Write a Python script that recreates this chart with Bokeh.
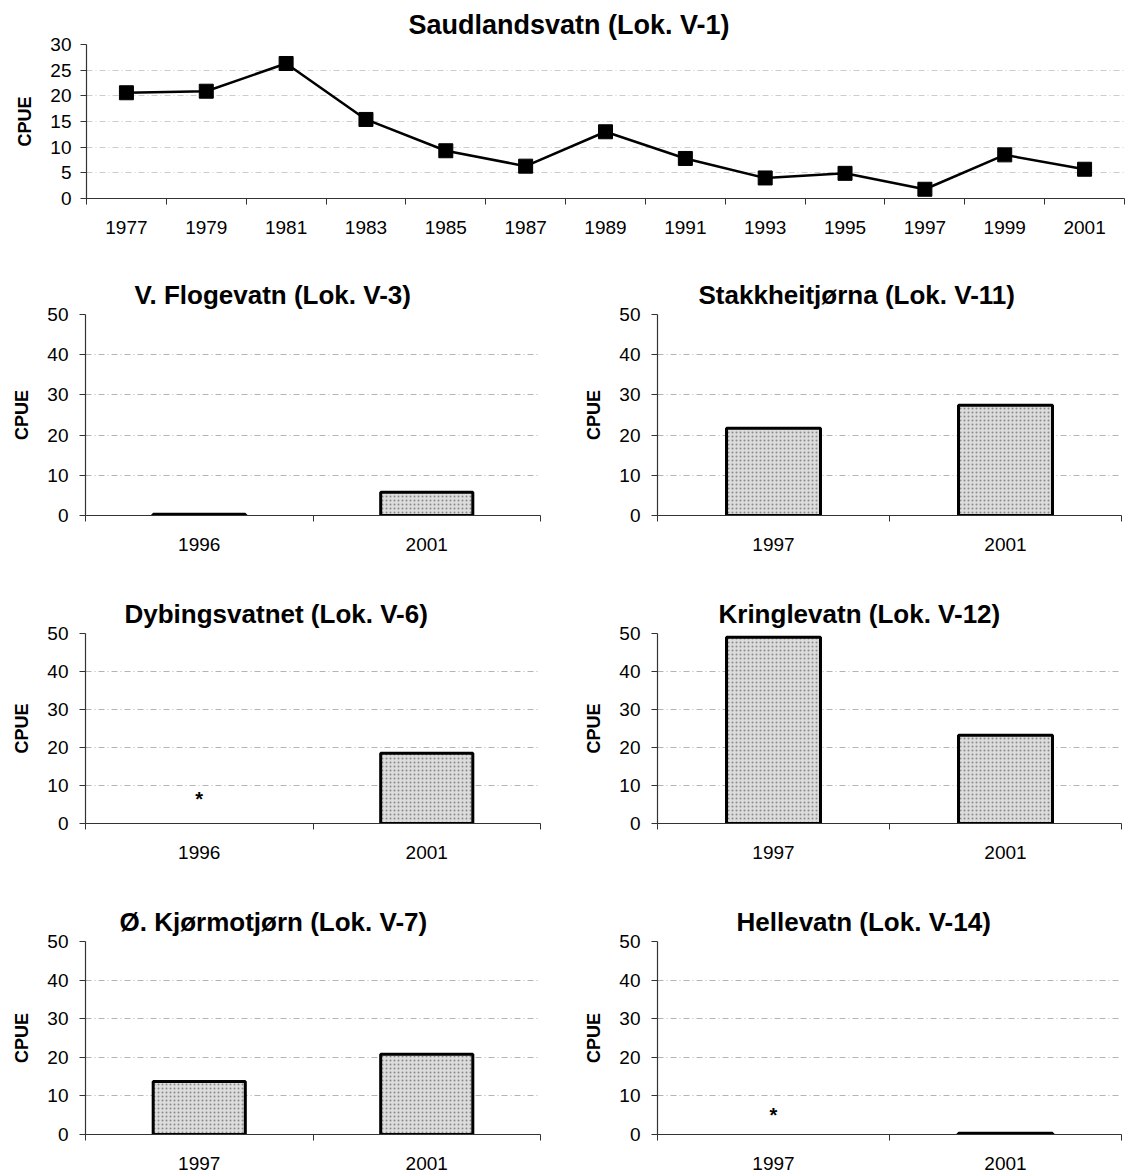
from bokeh.plotting import figure
from bokeh.layouts import column, row
from bokeh.models import Range1d, FixedTicker, ColumnDataSource
from bokeh.embed import file_html
from bokeh.resources import INLINE
from bokeh.core.properties import value

FONT = "Liberation Sans"

# ---- data ----
top_title = "Saudlandsvatn (Lok. V-1)"
top_years = ["1977", "1979", "1981", "1983", "1985", "1987", "1989",
             "1991", "1993", "1995", "1997", "1999", "2001"]
top_cpue = [20.6, 20.9, 26.3, 15.4, 9.3, 6.3, 13.0, 7.8, 4.0, 4.9, 1.8, 8.5, 5.7]
top_yticks = [0, 5, 10, 15, 20, 25, 30]

titles = ["V. Flogevatn (Lok. V-3)", "Stakkheitjørna (Lok. V-11)",
          "Dybingsvatnet (Lok. V-6)", "Kringlevatn (Lok. V-12)",
          "Ø. Kjørmotjørn (Lok. V-7)", "Hellevatn (Lok. V-14)"]
years = [["1996", "2001"], ["1997", "2001"],
         ["1996", "2001"], ["1997", "2001"],
         ["1997", "2001"], ["1997", "2001"]]
cpue = [[0.3, 5.8], [21.7, 27.4],
        [None, 18.5], [49.0, 23.2],
        [13.7, 20.8], [None, 0.3]]
star_year = [None, None, "1996", None, None, "1997"]
star_y = [None, None, 6.5, None, None, 5.0]
panel_yticks = [0, 10, 20, 30, 40, 50]

GRID_COLOR = "#b4b4b4"


def style_common(p, title_offset, title_size):
    p.title.text_font = FONT
    p.title.text_font_size = title_size
    p.title.text_font_style = "bold"
    p.title.align = "left"
    p.title.offset = title_offset
    p.title.text_color = "black"
    p.outline_line_color = None
    p.xgrid.grid_line_color = None
    p.ygrid.grid_line_color = GRID_COLOR
    p.ygrid.grid_line_dash = "6 3 1 3"
    p.ygrid.grid_line_width = 1
    for ax in (p.xaxis[0], p.yaxis[0]):
        ax.axis_line_color = "#333333"
        ax.axis_line_width = 1.2
        ax.major_tick_line_color = "#333333"
        ax.minor_tick_line_color = "#333333"
        ax.major_label_text_font = FONT
        ax.major_label_text_color = "black"
    p.yaxis[0].major_tick_in = 0
    p.yaxis[0].major_tick_out = 6
    p.yaxis[0].minor_tick_out = 0
    p.yaxis[0].minor_tick_in = 0
    p.yaxis[0].axis_label = "CPUE"
    p.yaxis[0].axis_label_text_font = FONT
    p.yaxis[0].axis_label_text_font_style = "bold"
    p.yaxis[0].axis_label_text_font_size = "18px"
    p.yaxis[0].axis_label_text_color = "black"
    p.xaxis[0].major_tick_in = 0
    p.xaxis[0].major_tick_out = 0
    p.xaxis[0].minor_tick_in = 0
    p.xaxis[0].minor_tick_out = 6


# ---- top line chart ----
n = len(top_years)
xs = list(range(n))
top = figure(frame_width=1038, frame_height=154,
             x_range=Range1d(-0.5, n - 0.5), y_range=Range1d(0, 30),
             output_backend="svg", toolbar_location=None, title=top_title,
             min_border_left=86, min_border_right=8,
             min_border_top=44, min_border_bottom=60)
style_common(top, 322, "27px")
top.yaxis[0].ticker = FixedTicker(ticks=top_yticks)
top.yaxis[0].major_label_text_font_size = "19px"
top.yaxis[0].major_label_standoff = 9
top.yaxis[0].axis_label_standoff = 12
top.xaxis[0].ticker = FixedTicker(ticks=xs, minor_ticks=[i - 0.5 for i in range(n + 1)])
top.xaxis[0].major_label_overrides = {i: y for i, y in enumerate(top_years)}
top.xaxis[0].major_label_text_font_size = "19px"
top.xaxis[0].major_label_standoff = 16
top.ygrid.grid_line_color = "#cccccc"
src = ColumnDataSource(dict(x=xs, y=top_cpue))
top.line("x", "y", source=src, line_color="black", line_width=2.5)
top.scatter("x", "y", source=src, marker="square", size=14,
            fill_color="black", line_color="black")


# ---- bar panels ----
def make_panel(i, left_col, frame_h, b_top, b_bottom, t_off):
    yrs = years[i]
    vals = cpue[i]
    if left_col:
        fw, bl, br = 455, 85, 26
    else:
        fw, bl, br = 464, 91, 11
    p = figure(frame_width=fw, frame_height=frame_h,
               x_range=Range1d(-0.5, len(yrs) - 0.5), y_range=Range1d(0, 50),
               output_backend="svg", toolbar_location=None, title=titles[i],
               min_border_left=bl, min_border_right=br,
               min_border_top=b_top, min_border_bottom=b_bottom)
    style_common(p, t_off, "26px")
    p.yaxis[0].ticker = FixedTicker(ticks=panel_yticks)
    p.yaxis[0].major_label_text_font_size = "19px"
    p.yaxis[0].major_label_standoff = 11
    p.yaxis[0].axis_label_standoff = 12
    p.xaxis[0].ticker = FixedTicker(ticks=list(range(len(yrs))),
                                    minor_ticks=[k - 0.5 for k in range(len(yrs) + 1)])
    p.xaxis[0].major_label_overrides = {k: y for k, y in enumerate(yrs)}
    p.xaxis[0].major_label_text_font_size = "19px"
    p.xaxis[0].major_label_standoff = 16
    bx = [k for k, v in enumerate(vals) if v is not None]
    bt = [v for v in vals if v is not None]
    p.vbar(x=bx, top=bt, bottom=0, width=0.405,
           fill_color="#dcdcdc", line_color="black", line_width=3,
           hatch_pattern="dot", hatch_color="#8a8a8a", hatch_scale=4,
           hatch_weight=1.2)
    if star_year[i] is not None:
        sx = yrs.index(star_year[i])
        p.text(x=[sx], y=[star_y[i]], text=["*"], text_font=value(FONT),
               text_font_size="20px", text_font_style="bold",
               text_align="center", text_baseline="middle", text_color="black")
    return p


p1 = make_panel(0, True, 201, 56, 57, 49)
p2 = make_panel(1, False, 201, 56, 57, 41)
p3 = make_panel(2, True, 190, 61, 59, 39)
p4 = make_panel(3, False, 190, 61, 59, 61)
p5 = make_panel(4, True, 193, 59, 38, 34)
p6 = make_panel(5, False, 193, 59, 38, 79)

layout = column(top, row(p1, p2, spacing=0), row(p3, p4, spacing=0),
                row(p5, p6, spacing=0), spacing=0)

open("out.html", "w").write(file_html(layout, INLINE))
